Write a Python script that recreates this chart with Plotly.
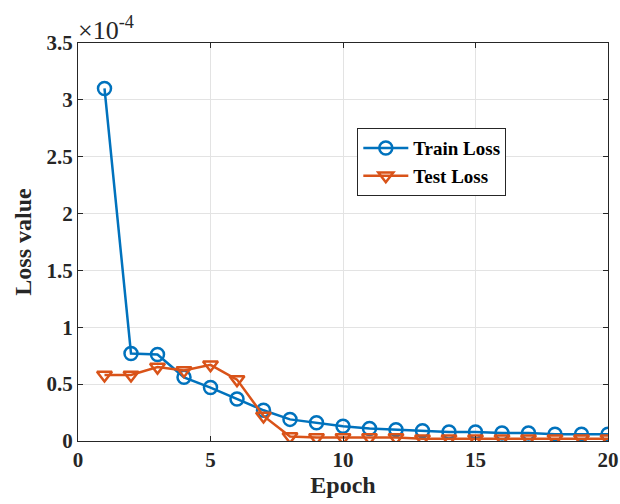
import plotly.graph_objects as go

epochs = list(range(1, 21))
train_loss = [3.10, 0.77, 0.76, 0.56, 0.47, 0.37, 0.27, 0.19, 0.16, 0.13,
              0.11, 0.10, 0.09, 0.08, 0.08, 0.07, 0.07, 0.06, 0.06, 0.06]
test_loss = [0.58, 0.58, 0.65, 0.62, 0.67, 0.54, 0.22, 0.04, 0.03, 0.03,
             0.03, 0.03, 0.02, 0.02, 0.02, 0.02, 0.02, 0.02, 0.02, 0.02]
x_ticks = [0, 5, 10, 15, 20]
y_ticks = [0, 0.5, 1, 1.5, 2, 2.5, 3, 3.5]
y_tick_text = ["0", "0.5", "1", "1.5", "2", "2.5", "3", "3.5"]

FONT = "Liberation Serif"
blue = "#0072BD"
orange = "#D95319"

fig = go.Figure()
fig.add_trace(go.Scatter(
    x=epochs, y=train_loss, name="<b>Train Loss</b>", mode="lines+markers",
    line=dict(color=blue, width=2.5),
    marker=dict(symbol="circle-open", size=13, line=dict(width=2.5, color=blue)),
))
fig.add_trace(go.Scatter(
    x=epochs, y=test_loss, name="<b>Test Loss</b>", mode="lines+markers",
    line=dict(color=orange, width=2.5),
    marker=dict(symbol="triangle-down-open", size=13, line=dict(width=2.5, color=orange)),
))

axis_common = dict(
    showline=True, linecolor="#262626", linewidth=1.2, mirror="ticks",
    ticks="inside", ticklen=5, tickcolor="#262626",
    showgrid=True, gridcolor="#e3e3e3", gridwidth=1, zeroline=False,
    tickfont=dict(family=FONT, size=21, color="#262626"),
    automargin=False, ticklabeloverflow="allow",
)

fig.update_layout(
    width=620, height=504,
    margin=dict(l=78, r=12, t=43, b=63),
    paper_bgcolor="white", plot_bgcolor="white",
    font=dict(family=FONT, color="#262626"),
    xaxis=dict(range=[0, 20], tickvals=x_ticks, ticktext=[f"<b>{t}</b>" for t in x_ticks],
               **axis_common,
               title=dict(text="<b>Epoch</b>", font=dict(family=FONT, size=24), standoff=2)),
    yaxis=dict(range=[0, 3.5], tickvals=y_ticks, ticktext=[f"<b>{t}</b>" for t in y_tick_text],
               **axis_common,
               title=dict(text="<b>Loss value</b>", font=dict(family=FONT, size=24), standoff=8)),
    legend=dict(
        x=0.527, y=0.786, xanchor="left", yanchor="top",
        bgcolor="white", bordercolor="#262626", borderwidth=1,
        font=dict(family=FONT, size=19, color="black"),
        tracegroupgap=0, itemwidth=45,
    ),
    showlegend=True,
)

fig.add_annotation(
    x=0, y=1, xref="paper", yref="paper", xanchor="left", yanchor="bottom",
    text="×10<sup>-4</sup>", showarrow=False,
    font=dict(family=FONT, size=26, color="#262626"), xshift=-2, yshift=-4,
)

fig.write_html("out.html")
